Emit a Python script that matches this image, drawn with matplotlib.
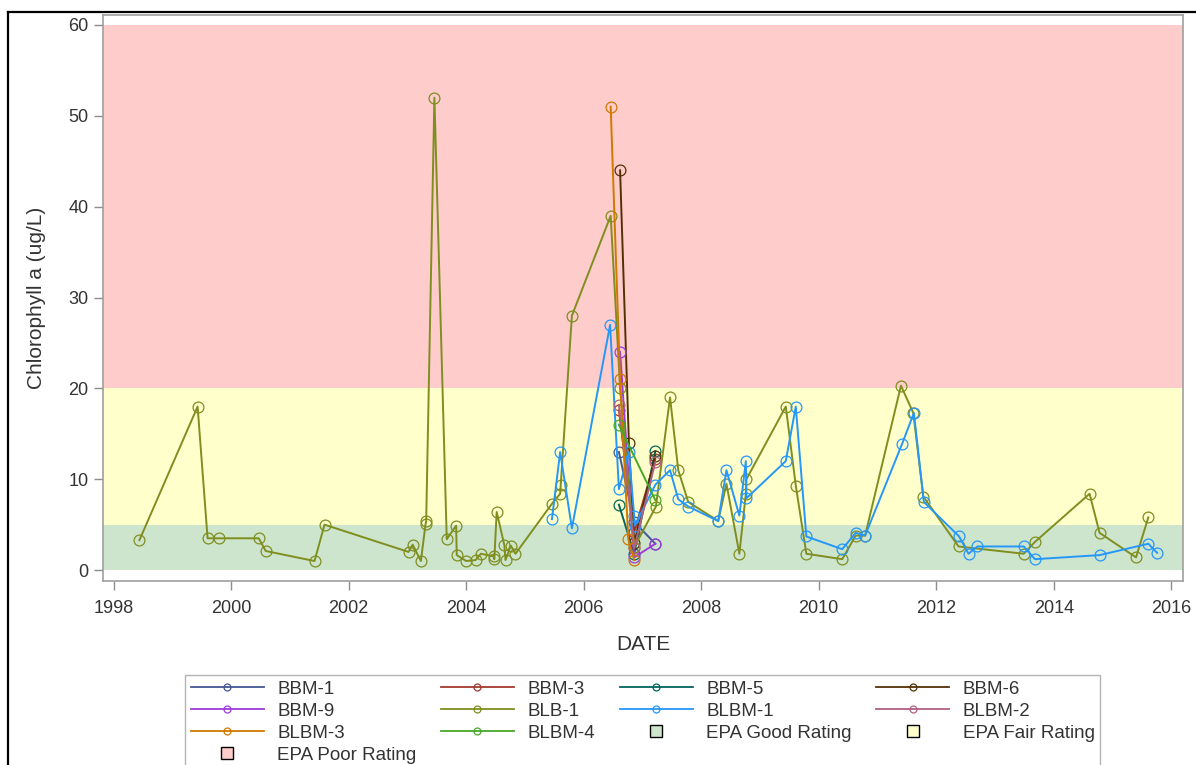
import matplotlib
matplotlib.use("Agg")
import matplotlib.pyplot as plt
from matplotlib.lines import Line2D

plt.rcParams['font.family'] = ['Liberation Sans', 'DejaVu Sans']

# --- station data: decimal year of sample, chlorophyll a (ug/L) ---
bbm1_dates = [2006.60, 2006.86, 2007.22]
bbm1_vals = [13.0, 5.3, 2.9]

bbm3_dates = [2006.60, 2006.86, 2007.22]
bbm3_vals = [17.6, 4.2, 12.2]

bbm5_dates = [2006.60, 2006.86, 2007.22]
bbm5_vals = [7.2, 1.8, 13.1]

bbm6_dates = [2006.62, 2006.77, 2006.86, 2007.22]
bbm6_vals = [44.0, 14.0, 3.0, 12.6]

bbm9_dates = [2006.62, 2006.86, 2007.22]
bbm9_vals = [24.0, 1.4, 2.9]

blb1_dates = [1998.44, 1999.43, 1999.60, 1999.80, 2000.47, 2000.59, 2001.42, 2001.59,
              2003.02, 2003.09, 2003.23, 2003.31, 2003.32, 2003.46, 2003.67, 2003.83,
              2003.84, 2004.00, 2004.16, 2004.25, 2004.47, 2004.48, 2004.52, 2004.65,
              2004.67, 2004.76, 2004.84, 2005.46, 2005.60, 2005.61, 2005.80, 2006.46,
              2006.62, 2006.86, 2007.23, 2007.47, 2007.61, 2007.78, 2008.29, 2008.43,
              2008.65, 2008.76, 2008.77, 2009.44, 2009.61, 2009.79, 2010.40, 2010.63,
              2010.79, 2011.40, 2011.61, 2011.78, 2012.38, 2013.49, 2013.68, 2014.61,
              2014.78, 2015.40, 2015.61]
blb1_vals = [3.3, 18.0, 3.5, 3.5, 3.5, 2.1, 1.0, 5.0,
             2.0, 2.8, 1.0, 5.1, 5.4, 52.0, 3.4, 4.9,
             1.65, 1.0, 1.1, 1.8, 1.5, 1.2, 6.4, 2.75,
             1.1, 2.7, 1.8, 7.3, 8.4, 9.4, 28.0, 39.0,
             20.0, 2.5, 7.0, 19.0, 11.0, 7.5, 5.4, 9.5,
             1.8, 8.4, 10.0, 18.0, 9.3, 1.8, 1.2, 3.8,
             3.8, 20.3, 17.3, 8.1, 2.6, 1.8, 3.1, 8.4,
             4.1, 1.4, 5.8]

blbm1_dates = [2005.46, 2005.60, 2005.80, 2006.45, 2006.60, 2006.77, 2006.86, 2006.87,
               2007.22, 2007.47, 2007.61, 2007.78, 2008.29, 2008.43, 2008.65, 2008.76,
               2008.77, 2009.44, 2009.61, 2009.79, 2010.40, 2010.63, 2010.79, 2011.42,
               2011.62, 2011.79, 2012.39, 2012.55, 2012.70, 2013.49, 2013.68, 2014.78,
               2015.61, 2015.76]
blbm1_vals = [5.6, 13.0, 4.6, 27.0, 8.9, 13.0, 5.9, 4.9,
              9.4, 11.0, 7.8, 7.0, 5.4, 11.0, 6.0, 12.0,
              7.9, 12.0, 18.0, 3.7, 2.3, 4.1, 3.8, 13.9,
              17.3, 7.5, 3.7, 1.8, 2.6, 2.6, 1.2, 1.65,
              2.9, 1.9]

blbm2_dates = [2006.60, 2006.86, 2007.22]
blbm2_vals = [18.2, 2.4, 11.9]

blbm3_dates = [2006.46, 2006.62, 2006.76, 2006.86]
blbm3_vals = [51.0, 21.0, 3.4, 1.1]

blbm4_dates = [2006.60, 2007.22]
blbm4_vals = [16.0, 7.7]

station_names = ['BBM-1', 'BBM-3', 'BBM-5', 'BBM-6', 'BBM-9',
                 'BLB-1', 'BLBM-1', 'BLBM-2', 'BLBM-3', 'BLBM-4']
station_dates = [bbm1_dates, bbm3_dates, bbm5_dates, bbm6_dates, bbm9_dates,
                 blb1_dates, blbm1_dates, blbm2_dates, blbm3_dates, blbm4_dates]
station_vals = [bbm1_vals, bbm3_vals, bbm5_vals, bbm6_vals, bbm9_vals,
                blb1_vals, blbm1_vals, blbm2_vals, blbm3_vals, blbm4_vals]
station_colors = ['#445694', '#A23A2E', '#01665E', '#543005', '#9D3CDB',
                  '#7F8E1F', '#2597FA', '#B26084', '#D17800', '#47A82A']

# EPA rating bands (ug/L)
band_names = ['EPA Good Rating', 'EPA Fair Rating', 'EPA Poor Rating']
band_low = [0, 5, 20]
band_high = [5, 20, 60]
band_colors = ['#CDE5CD', '#FFFFCC', '#FFCCCC']

x_ticks = [1998, 2000, 2002, 2004, 2006, 2008, 2010, 2012, 2014, 2016]
y_ticks = [0, 10, 20, 30, 40, 50, 60]

# --- figure ---
W, H = 1196, 765
fig = plt.figure(figsize=(W / 100, H / 100), dpi=100)
ax = fig.add_axes([103 / W, 1 - 581 / H, (1183 - 103) / W, (581 - 15) / H])

for lo, hi, c in zip(band_low, band_high, band_colors):
    ax.axhspan(lo, hi, color=c, lw=0, zorder=0)

for d, v, c in zip(station_dates, station_vals, station_colors):
    ax.plot(d, v, color=c, lw=1.4, marker='o', markersize=7.8,
            markerfacecolor='none', markeredgecolor=c, markeredgewidth=0.9, zorder=3)

ax.set_xlim(1997.82, 2016.2)
ax.set_ylim(-1.2, 61.1)
ax.set_xticks(x_ticks)
ax.set_yticks(y_ticks)
ax.tick_params(axis='both', direction='out', length=6.5, width=1, color='#8c8c8c',
               labelsize=13, labelcolor='#333333')
ax.tick_params(axis='x', pad=7)
ax.tick_params(axis='y', pad=4)
for s in ax.spines.values():
    s.set_color('#a0a0a0')
    s.set_linewidth(1.2)

ax.set_xlabel('DATE', fontsize=15, color='#333333', labelpad=13)
ax.set_ylabel('Chlorophyll a (ug/L)', fontsize=15, color='#333333', labelpad=16)

# legend handles, filled column-wise so the rows read in station order
line_handles = [Line2D([], [], color=c, lw=1.3, marker='o', markersize=5,
                       markerfacecolor='none', markeredgecolor=c, markeredgewidth=0.9)
                for c in station_colors]
band_handles = [Line2D([], [], lw=0, marker='s', markersize=8.5,
                       markerfacecolor=c, markeredgecolor='black', markeredgewidth=1.0)
                for c in band_colors]
handles = line_handles + band_handles
labels = station_names + band_names
order = [0, 4, 8, 12, 1, 5, 9, 2, 6, 10, 3, 7, 11]
leg = fig.legend([handles[i] for i in order], [labels[i] for i in order],
                 loc='upper left', bbox_to_anchor=(185 / W, 1 - 675 / H),
                 ncol=4, fontsize=13.5, frameon=True, fancybox=False,
                 handlelength=3.9, handletextpad=0.72, columnspacing=1.3,
                 labelspacing=0.26, borderpad=0.3, borderaxespad=0)
leg.get_frame().set_edgecolor('#a0a0a0')
leg.get_frame().set_linewidth(1.0)
for t in leg.get_texts():
    t.set_color('#333333')

# outer frame lines along the top and left edge
fig.add_artist(Line2D([8 / W, 1.0], [1 - 12 / H, 1 - 12 / H], color='black', lw=1.6))
fig.add_artist(Line2D([8 / W, 8 / W], [0.0, 1 - 12 / H], color='black', lw=1.6))

fig.savefig('out.png', dpi=100)
